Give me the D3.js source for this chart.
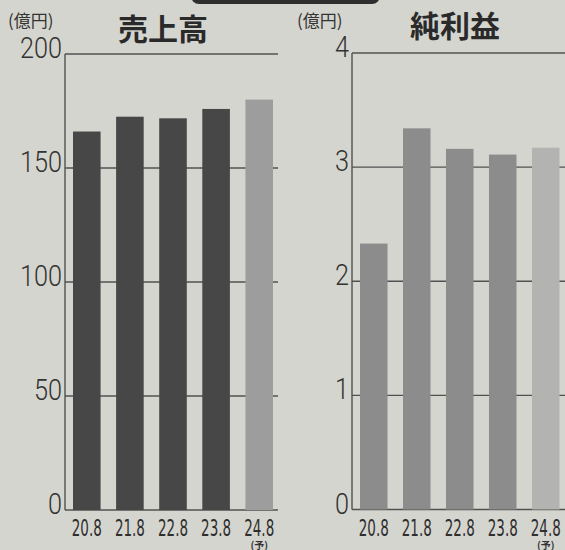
<!DOCTYPE html>
<html>
<head>
<meta charset="utf-8">
<script src="https://cdn.jsdelivr.net/npm/d3@7"></script>
<style>
  html, body { margin: 0; padding: 0; background: #d5d5cf; }
  svg { display: block; }
</style>
</head>
<body>
<svg id="chart" width="565" height="550"></svg>
<script>
// ---- data ----
const categories = ["20.8", "21.8", "22.8", "23.8", "24.8"];
const forecastFlags = [false, false, false, false, true];
const salesValues = [166, 172.5, 171.8, 175.9, 180];
const profitValues = [2.33, 3.34, 3.16, 3.11, 3.17];
const salesTicks = [0, 50, 100, 150, 200];
const profitTicks = [0, 1, 2, 3, 4];
const titles = ["売上高", "純利益"];
const unitLabel = "(億円)";
const forecastLabel = "(予)";

const svg = d3.select("#chart");

// background
svg.append("rect").attr("width", 565).attr("height", 550).attr("fill", "#d5d5cf");
// dark header tab partly off canvas
svg.append("rect").attr("x", 191).attr("y", -20).attr("width", 189).attr("height", 24)
  .attr("rx", 8).attr("fill", "#2e2e2e");

const panels = [
  { values: salesValues, ticks: salesTicks, max: 200, title: titles[0],
    axisX: 65, lineEnd: 278, top: 54, base: 510, barL: 73, barR: 273,
    titleX: 163, titleY: 40, unitX: 8, color: "#474747", fcColor: "#9d9d9d" },
  { values: profitValues, ticks: profitTicks, max: 4, title: titles[1],
    axisX: 352, lineEnd: 565, top: 53, base: 509.5, barL: 360, barR: 559.5,
    titleX: 455, titleY: 37, unitX: 297, color: "#8c8c8c", fcColor: "#b3b3b1" }
];

panels.forEach(p => {
  const g = svg.append("g");
  const y = d3.scaleLinear().domain([0, p.max]).range([p.base, p.top]);
  const x = d3.scaleBand().domain(categories).range([p.barL, p.barR]).paddingInner(0.36).paddingOuter(0);

  // gridlines
  g.selectAll("line.grid").data(p.ticks).join("line")
    .attr("x1", p.axisX).attr("x2", p.lineEnd)
    .attr("y1", d => y(d)).attr("y2", d => y(d))
    .attr("stroke", "#505050").attr("stroke-width", 1.4);

  // vertical axis
  g.append("line").attr("x1", p.axisX).attr("x2", p.axisX)
    .attr("y1", y(p.max)).attr("y2", y(0))
    .attr("stroke", "#505050").attr("stroke-width", 1.4);

  // bars
  g.selectAll("rect.bar").data(p.values).join("rect")
    .attr("x", (d, i) => x(categories[i]))
    .attr("width", x.bandwidth())
    .attr("y", d => y(d))
    .attr("height", d => y(0) - y(d))
    .attr("fill", (d, i) => forecastFlags[i] ? p.fcColor : p.color);

  // y tick labels
  g.selectAll("text.ytick").data(p.ticks).join("text")
    .attr("x", p.axisX - 3).attr("y", d => y(d) + 4)
    .attr("text-anchor", "end")
    .attr("font-family", "Roboto, 'Liberation Sans', sans-serif")
    .attr("font-weight", 300)
    .attr("font-size", 30)
    .attr("fill", "#333")
    .attr("textLength", d => String(d).length * 14)
    .attr("lengthAdjust", "spacingAndGlyphs")
    .text(d => d);

  // x labels
  g.selectAll("text.xtick").data(categories).join("text")
    .attr("x", d => x(d) + x.bandwidth() / 2)
    .attr("y", p.base + 26)
    .attr("text-anchor", "middle")
    .attr("font-family", "'DejaVu Sans Condensed', 'Liberation Sans Narrow', sans-serif")
    .attr("font-size", 23)
    .attr("fill", "#2e2e2e")
    .attr("textLength", 30)
    .attr("lengthAdjust", "spacingAndGlyphs")
    .text(d => d);

  // forecast mark
  categories.forEach((c, i) => {
    if (forecastFlags[i]) {
      g.append("text")
        .attr("x", x(c) + x.bandwidth() / 2).attr("y", 549)
        .attr("text-anchor", "middle")
        .attr("font-family", "'Noto Sans CJK JP', sans-serif")
        .attr("font-size", 10).attr("font-weight", 700)
        .attr("fill", "#333").text(forecastLabel);
    }
  });

  // unit label
  g.append("text").attr("x", p.unitX).attr("y", 27)
    .attr("font-family", "'Noto Sans CJK JP', sans-serif")
    .attr("font-size", 17).attr("fill", "#333")
    .text(unitLabel);

  // title
  g.append("text").attr("x", p.titleX).attr("y", p.titleY)
    .attr("text-anchor", "middle")
    .attr("font-family", "'Noto Sans CJK JP', sans-serif")
    .attr("font-size", 30).attr("font-weight", 700).attr("fill", "#2a2a2a")
    .text(p.title);
});
</script>
</body>
</html>
